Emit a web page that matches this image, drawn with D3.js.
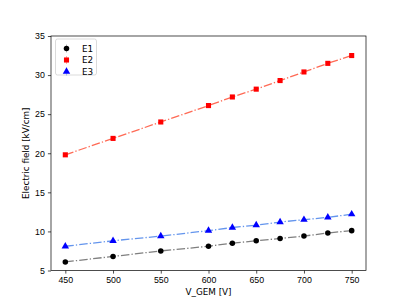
<!DOCTYPE html>
<html>
<head>
<meta charset="utf-8">
<script src="https://cdn.jsdelivr.net/npm/d3@7"></script>
<style>
  body { margin: 0; background: #fff; }
  svg { display: block; font-family: "DejaVu Sans", sans-serif; }
  .tick text { font-size: 8.8px; fill: #000; }
</style>
</head>
<body>
<svg id="chart" width="407" height="305"></svg>
<script>
const voltages = [450, 500, 550, 600, 625, 650, 675, 700, 725, 750];
const e1 = [6.1, 6.8, 7.5, 8.1, 8.5, 8.8, 9.1, 9.4, 9.8, 10.1];
const e2 = [19.8, 21.9, 24.0, 26.1, 27.2, 28.2, 29.3, 30.4, 31.5, 32.5];
const e3 = [8.1, 8.8, 9.4, 10.1, 10.5, 10.8, 11.2, 11.5, 11.8, 12.2];
const xTicks = [450, 500, 550, 600, 650, 700, 750];
const yTicks = [5, 10, 15, 20, 25, 30, 35];

const series = [
  { name: "E1", values: e1, marker: "circle", fill: "#000000", line: "#7f7f7f" },
  { name: "E2", values: e2, marker: "square", fill: "#ff0000", line: "#ff6a55" },
  { name: "E3", values: e3, marker: "triangle", fill: "#0000ff", line: "#6495ed" },
];

const svg = d3.select("#chart");
const m = { left: 51, right: 366, top: 36, bottom: 270.5 };

const x = d3.scaleLinear().domain([435, 765]).range([m.left, m.right]);
const y = d3.scaleLinear().domain([5, 35]).range([m.bottom, m.top]);

const sym = {
  circle: d3.symbol().type(d3.symbolCircle).size(24),
  square: d3.symbol().type(d3.symbolSquare).size(26),
  triangle: d3.symbol().type(d3.symbolTriangle).size(24),
};

// lines
const line = d3.line().x((d, i) => x(voltages[i])).y((d) => y(d));
series.forEach((s) => {
  svg.append("path")
    .attr("d", line(s.values))
    .attr("fill", "none")
    .attr("stroke", s.line)
    .attr("stroke-width", 1.3)
    .attr("stroke-dasharray", "8.5,2.1,1.3,2.1");
  svg.append("g").selectAll("path")
    .data(s.values)
    .join("path")
    .attr("transform", (d, i) => `translate(${x(voltages[i])},${y(d)})`)
    .attr("d", sym[s.marker]())
    .attr("fill", s.fill);
});

// axes
const xAxis = svg.append("g")
  .attr("transform", `translate(0,${m.bottom})`)
  .call(d3.axisBottom(x).tickValues(xTicks).tickSize(3.1).tickPadding(3));
const yAxis = svg.append("g")
  .attr("transform", `translate(${m.left},0)`)
  .call(d3.axisLeft(y).tickValues(yTicks).tickSize(3.1).tickPadding(3));
[xAxis, yAxis].forEach((a) => {
  a.select(".domain").remove();
  a.selectAll(".tick line").attr("stroke", "#000").attr("stroke-width", 0.7);
});

// frame
svg.append("rect")
  .attr("x", m.left).attr("y", m.top)
  .attr("width", m.right - m.left).attr("height", m.bottom - m.top)
  .attr("fill", "none").attr("stroke", "#000").attr("stroke-width", 0.7);

// labels
svg.append("text")
  .attr("x", (m.left + m.right) / 2).attr("y", 295)
  .attr("text-anchor", "middle").attr("font-size", 8.8)
  .text("V_GEM [V]");
svg.append("text")
  .attr("transform", `translate(29,${(m.top + m.bottom) / 2}) rotate(-90)`)
  .attr("text-anchor", "middle").attr("font-size", 8.8)
  .text("Electric field [kV/cm]");

// legend
const lg = svg.append("g").attr("transform", "translate(55.5,39)");
lg.append("rect")
  .attr("width", 41).attr("height", 36).attr("rx", 2)
  .attr("fill", "#fff").attr("fill-opacity", 0.8)
  .attr("stroke", "#cccccc").attr("stroke-width", 0.7);
series.forEach((s, i) => {
  const cy = 9.5 + i * 11.5;
  lg.append("line")
    .attr("x1", 11).attr("x2", 11).attr("y1", cy - 4).attr("y2", cy + 4)
    .attr("stroke", s.line).attr("stroke-width", 1).attr("opacity", 0.5);
  lg.append("path")
    .attr("transform", `translate(11,${cy})`)
    .attr("d", sym[s.marker]())
    .attr("fill", s.fill);
  lg.append("text")
    .attr("x", 26.5).attr("y", cy + 3.2)
    .attr("font-size", 8.8)
    .text(s.name);
});
</script>
</body>
</html>
